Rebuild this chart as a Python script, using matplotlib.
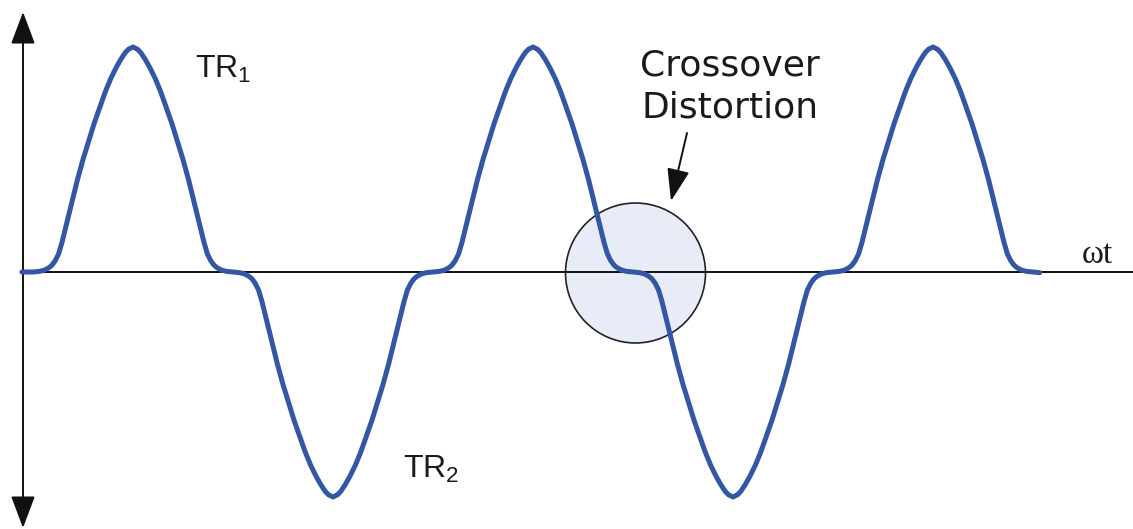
import matplotlib
matplotlib.use("Agg")
import matplotlib.pyplot as plt
from matplotlib.patches import Ellipse

# ---- data
# one half-cycle of the distorted output (offset in degrees from the zero crossing, amplitude)
half_offsets = [0, 6, 10, 14, 17, 20, 23, 26, 29, 32, 36, 40, 45, 50, 55, 60, 65, 70, 75, 79, 83, 86, 90,
                94, 97, 101, 105, 110, 115, 120, 125, 130, 135, 140, 144, 148, 151, 154, 157, 160, 163, 166, 170, 174]
half_values = [0.0, 0.003, 0.008, 0.018, 0.03, 0.05, 0.08, 0.13, 0.19, 0.25, 0.33, 0.41, 0.50, 0.58, 0.66, 0.73,
               0.80, 0.86, 0.91, 0.945, 0.975, 0.99, 1.0,
               0.99, 0.975, 0.945, 0.91, 0.86, 0.80, 0.73, 0.66, 0.58, 0.50, 0.41, 0.33, 0.25, 0.19, 0.13,
               0.08, 0.05, 0.03, 0.018, 0.008, 0.003]
crossings_deg = [0, 180, 360, 540, 720]          # start of each half-cycle (omega*t, degrees)
polarity = [1, -1, 1, -1, 1]                     # TR1 conducts (+), TR2 conducts (-)
start_point = (-10, 0.0)
end_points = [(900, 0.0), (906, -0.003)]

label_tr1 = "TR$_{\\mathregular{1}}$"
label_tr2 = "TR$_{\\mathregular{2}}$"
label_note = ["Crossover", "Distortion"]
label_x = "ωt"

wt_deg = [start_point[0]]
output = [start_point[1]]
for c, s in zip(crossings_deg, polarity):
    for o, v in zip(half_offsets, half_values):
        wt_deg.append(c + o)
        output.append(s * v)
for x, y in end_points:
    wt_deg.append(x)
    output.append(y)

plt.rcParams["mathtext.fontset"] = "custom"
plt.rcParams["mathtext.rm"] = "Liberation Sans"

W, H = 1133, 529
fig = plt.figure(figsize=(W / 100, H / 100), dpi=100)
ax = fig.add_axes([0, 0, 1, 1])
ax.axis("off")

# pixel -> data helpers (layout only)
def px(x):
    return (x - 33) * 0.9

def py(y):
    return (272 - y) / 225.0

ax.set_xlim(px(0), px(W))
ax.set_ylim(py(H), py(0))

# shaded circle highlighting the crossover region
circ = Ellipse((px(635.5), py(273)), width=140 * 0.9, height=140 / 225.0,
               facecolor="#e8ecf6", edgecolor="#222222", lw=1.2, zorder=1)
ax.add_patch(circ)

# horizontal axis
ax.plot([px(22), px(W)], [0, 0], color="#111111", lw=1.4, zorder=2, solid_capstyle="butt")

# vertical axis with arrows at both ends
ax.annotate("", xy=(px(23), py(12)), xytext=(px(23), py(528)),
            arrowprops=dict(arrowstyle="<|-|>, head_length=0.8, head_width=0.3",
                            mutation_scale=25, color="#111111", lw=1.4,
                            shrinkA=0, shrinkB=0), zorder=2)

# waveform
ax.plot(wt_deg, output, color="#3457a3", lw=3.6, zorder=3,
        solid_joinstyle="round", solid_capstyle="round")

# labels
ax.text(px(195), py(78), label_tr1, fontsize=23, family="Liberation Sans",
        ha="left", va="baseline", color="#1a1a1a")
ax.text(px(403), py(478), label_tr2, fontsize=23, family="Liberation Sans",
        ha="left", va="baseline", color="#1a1a1a")
ax.text(px(730), py(75), label_note[0], fontsize=26, family="DejaVu Sans",
        ha="center", va="baseline", color="#1a1a1a")
ax.text(px(730), py(117), label_note[1], fontsize=26, family="DejaVu Sans",
        ha="center", va="baseline", color="#1a1a1a")
ax.text(px(1082), py(263), label_x, fontsize=24, family="Liberation Serif",
        ha="left", va="baseline", color="#1a1a1a")

# annotation arrow
ax.annotate("", xy=(px(671), py(201)), xytext=(px(687), py(133)),
            arrowprops=dict(arrowstyle="-|>, head_length=0.8, head_width=0.28",
                            mutation_scale=25, color="#111111", lw=1.4,
                            shrinkA=0, shrinkB=0), zorder=4)

fig.savefig("out.png", dpi=100, facecolor="white")
